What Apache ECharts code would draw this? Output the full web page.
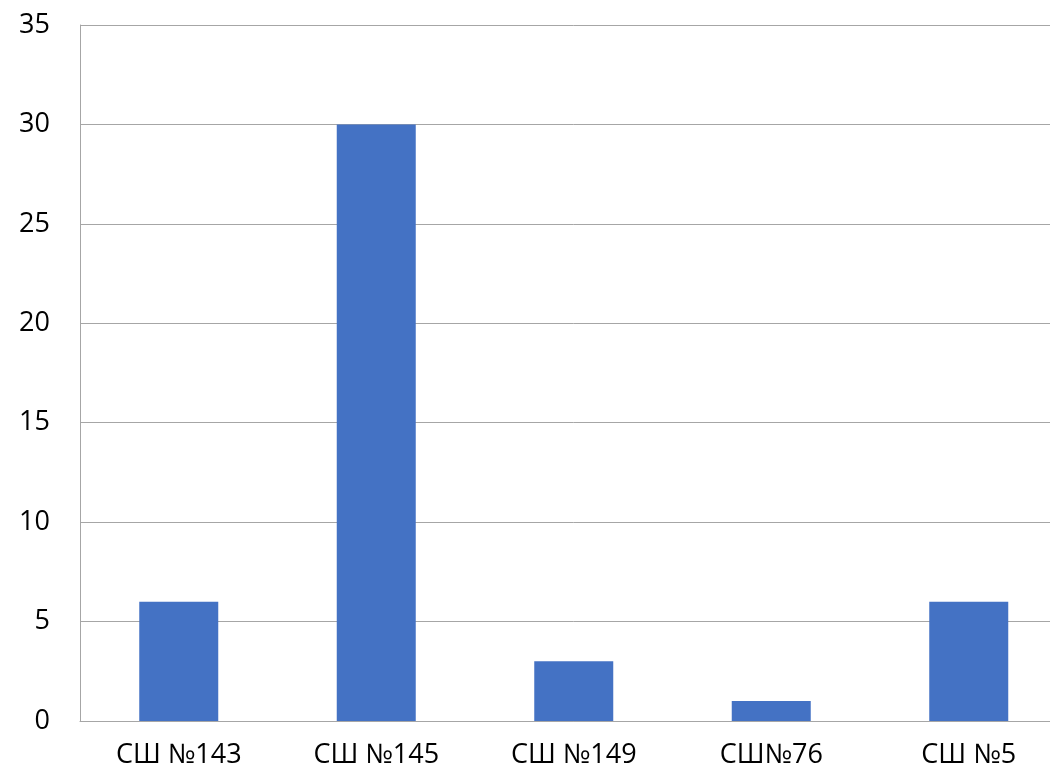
<!DOCTYPE html>
<html><head><meta charset="utf-8">
<script src="https://cdn.jsdelivr.net/npm/echarts@6/dist/echarts.min.js"></script>
<style>html,body{margin:0;padding:0;background:#fff;overflow:hidden;width:1050px;height:774px}#c{width:1068px;height:774px}</style>
</head><body><div id="c"></div>
<script>
const categories = ['СШ №143', 'СШ №145', 'СШ №149', 'СШ№76', 'СШ №5'];
const values = [6, 30, 3, 1, 6];
const yMin = 0, yMax = 35, yStep = 5;
const chart = echarts.init(document.getElementById('c'));
chart.setOption({
  animation: false,
  textStyle: {fontFamily: 'Open Sans'},
  grid: {left: 80, top: 25, bottom: 53, right: 0.5, containLabel: false},
  xAxis: {
    type: 'category', data: categories,
    axisLine: {show: true, lineStyle: {color: '#a6a6a6', width: 1}},
    axisTick: {show: false},
    axisLabel: {color: '#000', fontSize: 27, margin: 21, fontFamily: 'Open Sans'}
  },
  yAxis: {
    type: 'value', min: yMin, max: yMax, interval: yStep,
    axisLine: {show: true, lineStyle: {color: '#a6a6a6', width: 1}},
    axisTick: {show: false},
    splitLine: {lineStyle: {color: '#a6a6a6', width: 1}},
    axisLabel: {color: '#000', fontSize: 27, margin: 30, fontFamily: 'Open Sans'}
  },
  series: [{type: 'bar', data: values, barWidth: '40%', itemStyle: {color: '#4472C4'}}]
});
</script></body></html>
